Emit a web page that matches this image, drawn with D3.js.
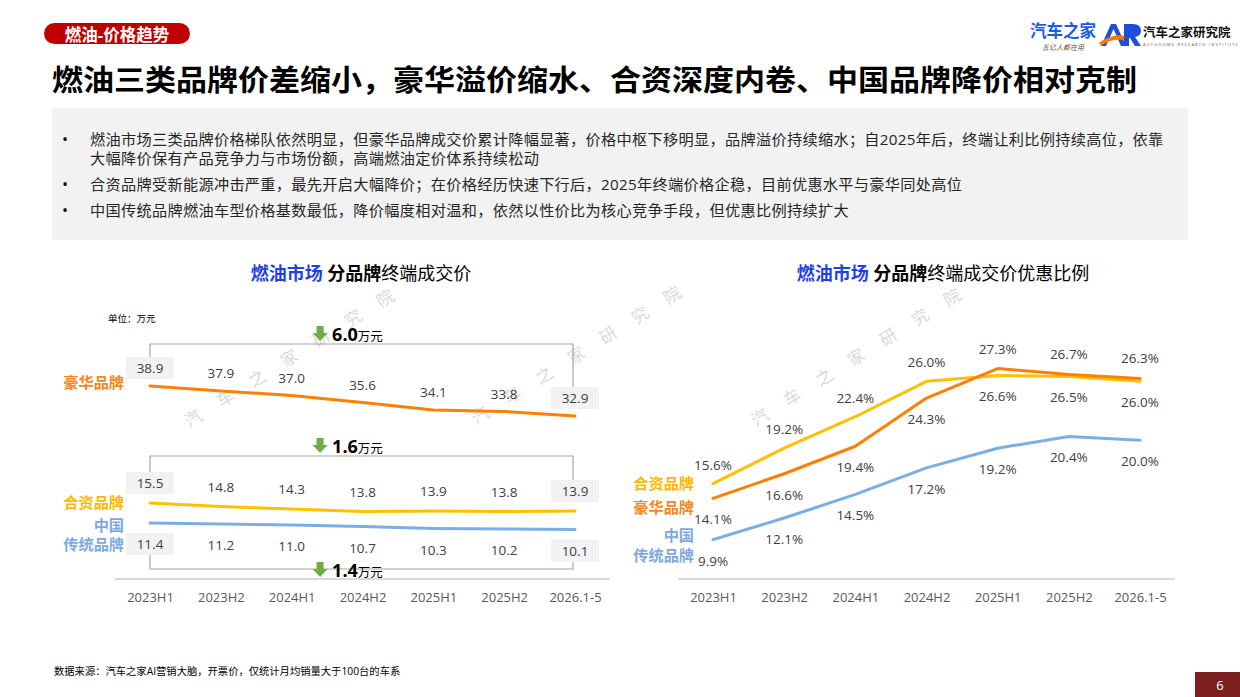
<!DOCTYPE html>
<html><head><meta charset="utf-8">
<script src="https://cdn.jsdelivr.net/npm/d3@7"></script>
<style>
html,body{margin:0;padding:0;background:#fff;}
svg{display:block;font-family:"Open Sans","Noto Sans CJK SC",sans-serif;}
</style></head>
<body><svg id="c" width="1240" height="697"></svg>
<script>
// ---------- data ----------
const categories = ["2023H1","2023H2","2024H1","2024H2","2025H1","2025H2","2026.1-5"];
const priceLuxury = [38.9,37.9,37.0,35.6,34.1,33.8,32.9];
const priceJoint  = [15.5,14.8,14.3,13.8,13.9,13.8,13.9];
const priceChina  = [11.4,11.2,11.0,10.7,10.3,10.2,10.1];
const discLuxury = [14.1,16.6,19.4,24.3,27.3,26.7,26.3];
const discJoint  = [15.6,19.2,22.4,26.0,26.6,26.5,26.0];
const discChina  = [9.9,12.1,14.5,17.2,19.2,20.4,20.0];
const priceDrops = ["6.0","1.6","1.4"];
const seriesNames = ["豪华品牌","合资品牌",["中国","传统品牌"]];
const bullets = [
 ["燃油市场三类品牌价格梯队依然明显，但豪华品牌成交价累计降幅显著，价格中枢下移明显，品牌溢价持续缩水；自2025年后，终端让利比例持续高位，依靠","大幅降价保有产品竞争力与市场份额，高端燃油定价体系持续松动"],
 ["合资品牌受新能源冲击严重，最先开启大幅降价；在价格经历快速下行后，2025年终端价格企稳，目前优惠水平与豪华同处高位"],
 ["中国传统品牌燃油车型价格基数最低，降价幅度相对温和，依然以性价比为核心竞争手段，但优惠比例持续扩大"]
];

const C = {lux:"#FF8000", joint:"#FFC000", china:"#7BAEE6", chinaText:"#7EA9DF", luxText:"#F7861C", jointText:"#FFB700"};
const svg = d3.select("#c");

// ---------- header ----------
svg.append("rect").attr("x",44).attr("y",23).attr("width",146).attr("height",21).attr("rx",10.5).attr("fill","#C00000");
svg.append("text").attr("x",117).attr("y",34).attr("text-anchor","middle").attr("dominant-baseline","central")
  .attr("fill","#fff").attr("font-weight","bold").attr("font-size",16.5).text("燃油-价格趋势");
svg.append("text").attr("x",52).attr("y",91).attr("font-size",29).attr("font-weight","bold").attr("fill","#000")
  .attr("textLength",1085).attr("lengthAdjust","spacingAndGlyphs")
  .text("燃油三类品牌价差缩小，豪华溢价缩水、合资深度内卷、中国品牌降价相对克制");

// logos
svg.append("text").attr("x",1030).attr("y",37).attr("font-size",16.5).attr("font-weight","bold").attr("fill","#1E5BE0").text("汽车之家");
svg.append("text").attr("x",1042).attr("y",50).attr("font-size",7).attr("font-style","italic").attr("fill","#6B4A2A").text("五亿人都在用");
svg.append("path").attr("d","M1101,46 L1111,24 L1116,24 L1126,46 L1121,46 L1113.5,29 L1106,46 Z").attr("fill","#1F4FD8");
svg.append("path").attr("d","M1099,43 Q1112,33 1125,36 L1124,40 Q1112,38 1101,46 Z").attr("fill","#FF7A00");
svg.append("path").attr("d","M1124,24 L1133,24 Q1141,24 1141,31 Q1141,36 1135,37 L1141,46 L1135,46 L1130,38 L1129,38 L1129,46 L1124,46 Z").attr("fill","#1F4FD8");
svg.append("text").attr("x",1143).attr("y",37).attr("font-size",12.5).attr("font-weight","bold").attr("fill","#111").text("汽车之家研究院");
svg.append("text").attr("x",1143).attr("y",46).attr("font-size",4).attr("fill","#555").attr("letter-spacing",1.2).text("AUTOHOME RESEARCH INSTITUTE");

// ---------- bullet box ----------
svg.append("rect").attr("x",52).attr("y",108).attr("width",1136).attr("height",132).attr("fill","#F2F2F2");
const lineYs = [[138.5,158],[184],[210]];
bullets.forEach((b,i)=>{
  svg.append("text").attr("x",62).attr("y",lineYs[i][0]).attr("dominant-baseline","central").attr("font-size",16).attr("fill","#111").text("•");
  b.forEach((t,j)=>{
    svg.append("text").attr("x",90).attr("y",lineYs[i][j]).attr("dominant-baseline","central")
      .attr("font-size",15.2).attr("letter-spacing",0.3).attr("fill","#262626").text(t);
  });
});

// ---------- watermark ----------
const wm = "汽车之家研究院";
[[193,418],[480,415],[760,417]].forEach(([sx,sy])=>{
  wm.split("").forEach((ch,i)=>{
    const x=sx+i*32, y=sy-i*20;
    svg.append("text").attr("x",x).attr("y",y).attr("text-anchor","middle").attr("dominant-baseline","central")
      .attr("font-size",17).attr("fill","#DADADA").attr("transform",`rotate(-32,${x},${y})`).text(ch);
  });
});

// ---------- chart titles ----------
function chartTitle(cx, rest){
  const t = svg.append("text").attr("x",cx).attr("y",273).attr("text-anchor","middle").attr("dominant-baseline","central").attr("font-size",18);
  t.append("tspan").attr("fill","#1F3FE6").attr("font-weight","bold").text("燃油市场 ");
  t.append("tspan").attr("fill","#000").attr("font-weight","bold").text("分品牌");
  t.append("tspan").attr("fill","#000").text(rest);
}
chartTitle(361,"终端成交价");
chartTitle(943,"终端成交价优惠比例");
svg.append("text").attr("x",108).attr("y",318).attr("dominant-baseline","central").attr("font-size",9.5).attr("fill","#000").text("单位：万元");

// ---------- left chart ----------
const xL = d3.scalePoint().domain(categories).range([150,575]);
const PX_PER_UNIT = 5;
function brokenScale(vals, top){
  const [mn,mx] = d3.extent(vals);
  return d3.scaleLinear().domain([mn,mx]).range([top + PX_PER_UNIT*(mx-mn), top]);
}
const yLux = brokenScale(priceLuxury, 386);
const yJoint = brokenScale(priceJoint, 503);
const yChina = brokenScale(priceChina, 523);

const leftSeries = [
  {vals:priceLuxury, y:yLux, color:C.lux, off:-18},
  {vals:priceJoint, y:yJoint, color:C.joint, off:-20},
  {vals:priceChina, y:yChina, color:C.china, off:21}
];
// axis line
svg.append("line").attr("x1",115).attr("x2",610).attr("y1",579).attr("y2",579).attr("stroke","#D9D9D9").attr("stroke-width",2);
const axL = svg.append("g").attr("transform","translate(0,590)").call(d3.axisBottom(xL).tickSize(0));
axL.select(".domain").remove();
axL.selectAll("text").attr("font-size",13).attr("fill","#595959").attr("font-family","'Open Sans','Noto Sans CJK SC',sans-serif");

// brackets
const n = categories.length, first = categories[0], last = categories[n-1];
const bx0 = xL(first), bx1 = xL(last)-2;
const bracket = (pts)=> svg.append("path").attr("d", d3.line()(pts)).attr("fill","none").attr("stroke","#A6A6A6").attr("stroke-width",1.2);
const lTop0 = yLux(priceLuxury[0])-18-11, lTopN = yLux(priceLuxury[n-1])-18-11, lB = lTop0-13;
bracket([[bx0,lTop0],[bx0,lB],[bx1,lB],[bx1,lTopN]]);
const jTop0 = yJoint(priceJoint[0])-20-11, jTopN = yJoint(priceJoint[n-1])-20-11, jB = jTop0-16;
bracket([[bx0,jTop0],[bx0,jB],[bx1,jB],[bx1,jTopN]]);
const cBot0 = yChina(priceChina[0])+21+11, cBotN = yChina(priceChina[n-1])+21+11, cB = cBot0+14;
bracket([[bx0,cBot0],[bx0,cB],[bx1,cB],[bx1,cBotN]]);

// drop arrows
const ax = (xL(categories[2])+xL(categories[3]))/2 - 7;
function dropArrow(bottomY, label){
  const g = svg.append("g").attr("transform",`translate(${ax},${bottomY})`);
  g.append("path").attr("d","M-3.5,-15 L3.5,-15 L3.5,-8 L7.5,-8 L0,0 L-7.5,-8 L-3.5,-8 Z").attr("fill","#70AD47");
  const t = g.append("text").attr("x",12).attr("y",0).attr("fill","#000");
  t.append("tspan").attr("font-size",18).attr("font-weight","bold").text(label);
  t.append("tspan").attr("font-size",12.5).text("万元");
}
dropArrow(lB-3, priceDrops[0]);
dropArrow(jB-3, priceDrops[1]);
dropArrow(cB+8, priceDrops[2]);

leftSeries.forEach(s=>{
  svg.append("path").datum(s.vals)
    .attr("d", d3.line().x((d,i)=>xL(categories[i])).y(d=>s.y(d)))
    .attr("fill","none").attr("stroke",s.color).attr("stroke-width",3).attr("stroke-linecap","round");
  s.vals.forEach((v,i)=>{
    const cx = xL(categories[i]), cy = s.y(v)+s.off;
    if(i===0||i===n-1){
      svg.append("rect").attr("x",cx-24).attr("y",cy-11).attr("width",48).attr("height",22).attr("fill","#F2F2F2");
    }
    svg.append("text").attr("x",cx).attr("y",cy).attr("text-anchor","middle").attr("dominant-baseline","central")
      .attr("font-size",13.5).attr("fill","#404040").text(v.toFixed(1));
  });
});
// series labels (single or two-line)
function seriesLabel(x, y, name, col, gap){
  const t = svg.append("text").attr("text-anchor","end").attr("font-size",15.2).attr("font-weight","bold").attr("fill",col);
  const lines = Array.isArray(name) ? name : [name];
  lines.forEach((ln,k)=>{
    t.append("tspan").attr("x",x).attr("y",y + k*gap).attr("dominant-baseline","central").text(ln);
  });
}
seriesLabel(124, yLux(priceLuxury[0])-4, seriesNames[0], C.luxText, 0);
seriesLabel(124, yJoint(priceJoint[0])-1, seriesNames[1], C.jointText, 0);
seriesLabel(124, yChina(priceChina[0])+1.5, seriesNames[2], C.chinaText, 19.6);

// ---------- right chart ----------
const xR = d3.scalePoint().domain(categories).range([713,1140]);
const yR = d3.scaleLinear().domain([6,30]).range([578,342]);
svg.append("line").attr("x1",678).attr("x2",1175).attr("y1",579).attr("y2",579).attr("stroke","#D9D9D9").attr("stroke-width",2);
const axR = svg.append("g").attr("transform","translate(0,590)").call(d3.axisBottom(xR).tickSize(0));
axR.select(".domain").remove();
axR.selectAll("text").attr("font-size",13).attr("fill","#595959").attr("font-family","'Open Sans','Noto Sans CJK SC',sans-serif");

const rightSeries = [
  {vals:discJoint, color:C.joint, off:i=> i<4 ? -19 : 21},
  {vals:discLuxury, color:C.lux, off:i=> i<4 ? 21 : -20},
  {vals:discChina, color:C.china, off:()=>21}
];
rightSeries.forEach(s=>{
  svg.append("path").datum(s.vals)
    .attr("d", d3.line().x((d,i)=>xR(categories[i])).y(d=>yR(d)))
    .attr("fill","none").attr("stroke",s.color).attr("stroke-width",3).attr("stroke-linecap","round").attr("stroke-linejoin","round");
});
rightSeries.forEach(s=>{
  s.vals.forEach((v,i)=>{
    svg.append("text").attr("x",xR(categories[i])).attr("y",yR(v)+s.off(i)).attr("text-anchor","middle").attr("dominant-baseline","central")
      .attr("font-size",13.5).attr("fill","#404040").text(v.toFixed(1)+"%");
  });
});
seriesLabel(694, yR(discJoint[0])-1, seriesNames[1], C.jointText, 0);
seriesLabel(694, yR(discLuxury[0])+9, seriesNames[0], C.luxText, 0);
seriesLabel(694, yR(discChina[0])-4.5, seriesNames[2], C.chinaText, 19.6);

// ---------- footer ----------
svg.append("text").attr("x",54).attr("y",671).attr("dominant-baseline","central").attr("font-size",10.3).attr("fill","#000")
  .text("数据来源：汽车之家AI营销大脑，开票价，仅统计月均销量大于100台的车系");
svg.append("rect").attr("x",1195).attr("y",672).attr("width",45).attr("height",25).attr("fill","#7B1F1F");
svg.append("text").attr("x",1220).attr("y",685).attr("text-anchor","middle").attr("dominant-baseline","central").attr("font-size",13).attr("fill","#fff").text("6");
</script></body></html>
